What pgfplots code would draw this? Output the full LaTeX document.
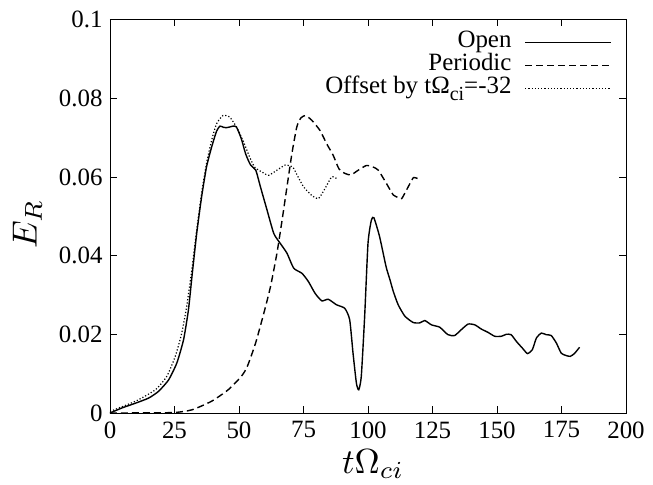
\documentclass[border=0pt]{standalone}
\usepackage{graphicx}
\usepackage{fontspec}
\setmainfont{Liberation Serif}
\usepackage{pgfplots}
\pgfplotsset{compat=1.18}

% Reconnection energy E_R against t*Omega_ci
\pgfplotstableread{
x y
0 0
4.7 0.0013
9.9 0.0025
15 0.0038
18.8 0.0055
22.7 0.0084
25.9 0.0127
28.5 0.0186
30.4 0.0262
31.9 0.0355
33.6 0.0456
35.5 0.0549
37.4 0.0625
39.4 0.0676
41.3 0.0716
42.6 0.0729
44 0.0726
45.1 0.0725
46.5 0.0727
47.7 0.0729
49 0.0727
50.9 0.0697
52.6 0.0658
54.5 0.063
56.5 0.0617
58.3 0.0575
60.9 0.0515
63.5 0.0456
66 0.0431
68.6 0.0406
71.2 0.0368
74.4 0.0355
76.9 0.0334
79.5 0.0304
82.1 0.0285
84.6 0.0289
87.8 0.0275
91 0.0266
92.9 0.0237
94.2 0.0152
95.5 0.0076
96.4 0.0059
97.4 0.0093
98.7 0.0245
100 0.0431
101.3 0.049
102.3 0.0496
104.5 0.0448
107 0.0372
108.5 0.0339
109.8 0.0309
111.7 0.0275
114.3 0.0246
117.5 0.023
120.1 0.0229
122 0.0235
124.6 0.0224
127.8 0.0218
131 0.0199
133.6 0.0197
136.2 0.0212
138.8 0.0226
141.4 0.0224
144 0.0213
146.5 0.0205
149.1 0.0195
151.7 0.0195
153.6 0.02
155.5 0.0199
157.5 0.0182
160.1 0.0163
161.8 0.0151
163.7 0.0161
165.3 0.0191
167.2 0.0203
169.1 0.0199
171 0.0197
173 0.0178
174.9 0.0152
176.8 0.0146
178.4 0.0144
180 0.0151
182 0.0167
}\openbc

\pgfplotstableread{
x y
0 0
24 0.0001
31.7 0.0008
39.4 0.003
45.8 0.0059
50.9 0.0093
53.2 0.0118
56.4 0.0177
59.6 0.0253
62.2 0.0321
64.7 0.0406
66.7 0.049
68.6 0.0575
70.5 0.0659
72.4 0.0727
74 0.075
75.8 0.0756
78.2 0.0744
81.4 0.0718
84 0.0684
86.5 0.0655
88.7 0.0621
91 0.0609
93.4 0.0605
96.2 0.0617
99.4 0.0629
102 0.0625
104 0.0617
107 0.0585
109.8 0.0554
112 0.0547
113.1 0.0545
115.6 0.0575
117.6 0.0598
119.5 0.0595
}\periodicbc

\pgfplotstableread{
x y
0 0.0004
9.9 0.003
17.6 0.0059
22 0.0093
25.3 0.0144
27.8 0.0203
29.7 0.027
31.7 0.0363
33.6 0.0465
35.5 0.0558
37.4 0.0634
39.4 0.0693
41.3 0.0735
43.8 0.0756
46.4 0.0752
49 0.0727
51.5 0.0693
54.1 0.0651
56 0.0625
57.7 0.0617
59.5 0.061
61.5 0.0604
64.7 0.0617
67.9 0.063
70.8 0.0625
72.5 0.0605
75 0.0575
78.2 0.0553
80.8 0.0545
83.3 0.057
85.9 0.06
87.8 0.0596
}\offsetbc

\begin{document}
\begin{tikzpicture}
\begin{axis}[
  name=ax,
  scale only axis,
  width=516bp, height=393.5bp,
  xmin=0, xmax=200, ymin=0, ymax=0.1,
  xtick={0,25,...,200},
  xticklabels={0,25,50,75,100,125,150,175,200},
  ytick={0,0.02,0.04,0.06,0.08,0.1},
  yticklabels={0,0.02,0.04,0.06,0.08,0.1},
  tick align=inside,
  major tick length=7bp,
  tick style={black, line width=0.6bp},
  axis line style={line width=0.8bp},
  ticklabel style={font=\fontsize{25}{28}\selectfont},
  xticklabel style={yshift=-5bp},
  yticklabel style={xshift=-4bp},
  xlabel={\scalebox{3.5}{$t\Omega_{ci}$}},
  ylabel={\scalebox{3.5}{$E_R$}},
  xlabel style={at={(axis description cs:0.5,0)}, anchor=base, yshift=-60bp, xshift=5bp},
  ylabel style={at={(axis description cs:-0.16,0.48)}, anchor=center},
  legend style={draw=none, fill=none, at={(axis description cs:0.973,0.972)},
    anchor=north east, font=\fontsize{25}{23}\selectfont, row sep=0bp,
    inner sep=0pt, nodes={inner sep=0pt, text height=16.5bp, text depth=6.5bp}},
  legend cell align=right,
  legend plot pos=right,
  legend image code/.code={\path (0bp,0bp); \draw[#1] (13bp,0bp) -- (99bp,0bp);},
  every axis plot/.append style={smooth, tension=0.35},
]
\addplot[black, line width=1.4bp] table {\openbc};
\addlegendentry{Open}
\addplot[black, line width=1.4bp, dash pattern=on 7bp off 4bp] table {\periodicbc};
\addlegendentry{Periodic}
\addplot[black, line width=1.2bp, dash pattern=on 1.2bp off 2bp] table {\offsetbc};
\addlegendentry{Offset by tΩ\raisebox{-0.3em}{\fontsize{20}{20}\selectfont ci}=-32}
\end{axis}
\pgfresetboundingbox
\path[use as bounding box] ([xshift=-110bp,yshift=-72bp]ax.south west)
  rectangle ([xshift=27bp,yshift=19.5bp]ax.north east);
\end{tikzpicture}
\end{document}
